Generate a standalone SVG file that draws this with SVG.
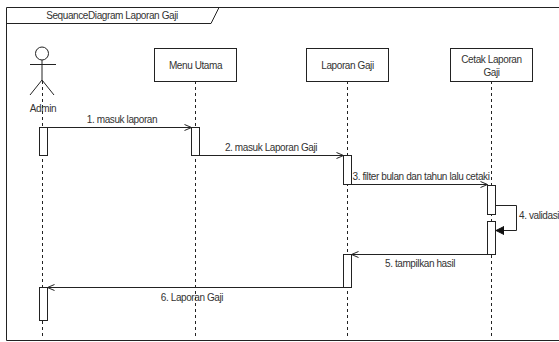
<svg xmlns="http://www.w3.org/2000/svg" width="559" height="342" viewBox="0 0 559 342">
<defs>
<style>
.ln{stroke:#222;stroke-width:1;fill:none}
.box{fill:#fff;stroke:#222;stroke-width:1}
.life{stroke:#222;stroke-width:1;stroke-dasharray:3,3;fill:none}
.t{font-family:"Liberation Sans",Arial,sans-serif;font-size:10px;letter-spacing:-0.4px;fill:#333}
.c{text-anchor:middle}
</style>
<marker id="open" markerWidth="10" markerHeight="10" refX="8" refY="4" orient="auto" markerUnits="userSpaceOnUse">
<path d="M1,1 L8,4 L1,7" fill="none" stroke="#222" stroke-width="1"/>
</marker>
<marker id="fill" markerWidth="10" markerHeight="10" refX="8" refY="4" orient="auto" markerUnits="userSpaceOnUse">
<path d="M0,0 L8,4 L0,8 Z" fill="#111" stroke="#111"/>
</marker>
</defs>
<rect width="559" height="342" fill="#fff"/>
<g id="frame">
<path class="ln" d="M565,7.5 L6.5,7.5 L6.5,340.5 L565,340.5"/>
<path class="ln" d="M6.5,23.5 L211,23.5 L219,7.5"/>
<text class="t c" x="112" y="19">SequanceDiagram Laporan Gaji</text>
</g>
<g id="lifelines">
<line class="life" x1="42.5" y1="81" x2="42.5" y2="338"/>
<line class="life" x1="195.5" y1="81" x2="195.5" y2="338"/>
<line class="life" x1="347.5" y1="81" x2="347.5" y2="338"/>
<line class="life" x1="491.5" y1="81" x2="491.5" y2="338"/>
</g>
<g id="admin">
<circle class="box" cx="42" cy="53.5" r="6.5"/>
<line class="ln" x1="42" y1="60" x2="42" y2="80"/>
<line class="ln" x1="30" y1="64.5" x2="56" y2="64.5"/>
<path class="ln" d="M30,95 L42,80 L54,95"/>
<text class="t c" x="43" y="112">Admin</text>
</g>
<g id="menu-utama">
<rect class="box" x="154.5" y="48.5" width="82" height="33"/>
<text class="t c" x="195.5" y="69">Menu Utama</text>
</g>
<g id="laporan-gaji">
<rect class="box" x="306.5" y="48.5" width="82" height="33"/>
<text class="t c" x="347.5" y="69">Laporan Gaji</text>
</g>
<g id="cetak-laporan-gaji">
<rect class="box" x="450.5" y="48.5" width="82" height="33"/>
<text class="t c" x="491.5" y="63">Cetak Laporan</text>
<text class="t c" x="491.5" y="76">Gaji</text>
</g>
<g id="activations">
<rect class="box" x="39.5" y="127.5" width="8" height="28"/>
<rect class="box" x="191.5" y="127.5" width="8" height="28"/>
<rect class="box" x="343.5" y="155.5" width="8" height="29"/>
<rect class="box" x="487.5" y="185.5" width="8" height="29"/>
<rect class="box" x="487.5" y="221.5" width="8" height="33"/>
<rect class="box" x="343.5" y="254.5" width="8" height="33"/>
<rect class="box" x="39.5" y="287.5" width="8" height="33"/>
</g>
<g id="connectors">
<line class="ln" x1="47.5" y1="127.5" x2="191.5" y2="127.5" marker-end="url(#open)"/>
<text class="t c" x="122" y="123">1. masuk laporan</text>
<line class="ln" x1="199.5" y1="155.5" x2="343.5" y2="155.5" marker-end="url(#open)"/>
<text class="t c" x="271" y="151">2. masuk Laporan Gaji</text>
<line class="ln" x1="351.5" y1="184.5" x2="487.5" y2="184.5" marker-end="url(#open)"/>
<text class="t" x="352.5" y="180">3. filter bulan dan tahun lalu cetaki</text>
<path class="ln" d="M495.5,205.5 L516.5,205.5 L516.5,230.5 L496,230.5" marker-end="url(#fill)"/>
<text class="t" x="519" y="219">4. validasi</text>
<line class="ln" x1="487.5" y1="254.5" x2="351.5" y2="254.5" marker-end="url(#open)"/>
<text class="t c" x="420" y="267">5. tampilkan hasil</text>
<line class="ln" x1="343.5" y1="287.5" x2="47.5" y2="287.5" marker-end="url(#open)"/>
<text class="t c" x="192" y="301">6. Laporan Gaji</text>
</g>
</svg>
